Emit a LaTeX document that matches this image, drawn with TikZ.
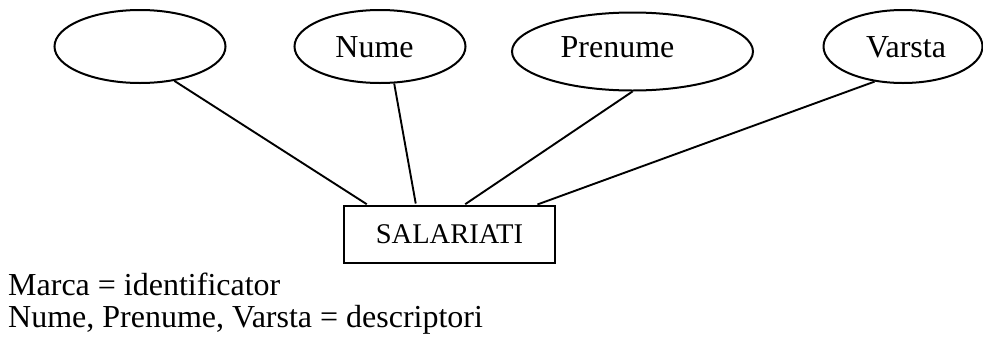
\documentclass[tikz,border=0pt]{standalone}
\usepackage{fontspec}
\setmainfont{Liberation Serif}
\usetikzlibrary{shapes.geometric,calc}
\begin{document}
\begin{tikzpicture}[x=1pt,y=-1pt,
  attr/.style={draw,ellipse,line width=2pt,inner sep=0pt},
  lbl/.style={inner sep=0pt,font=\fontsize{32}{38}\selectfont},
  entity/.style={draw,rectangle,line width=2pt,inner sep=0pt,
    minimum width=211pt,minimum height=57pt,font=\fontsize{28.5}{34}\selectfont},
  link/.style={line width=1.9pt,shorten >=1.5pt},
  note/.style={anchor=base west,inner sep=0pt,font=\fontsize{32}{38}\selectfont}]
  \useasboundingbox (0,0) rectangle (983,338);

  % attribute ellipses
  \node[attr,minimum width=171pt,minimum height=73pt] (e1) at (140,46.5) {};
  \node[attr,minimum width=171pt,minimum height=73pt] (e2) at (380,46.5) {};
  \node[attr,minimum width=241pt,minimum height=78pt] (e3) at (632.5,51.5) {};
  \node[attr,minimum width=159pt,minimum height=73pt] (e4) at (903,46.5) {};

  % attribute names (base line at y = 57)
  \node[lbl,anchor=base] (t2) at (374.5,57) {Nume};
  \node[lbl,anchor=base] (t3) at (617.5,57) {Prenume};
  \node[lbl,anchor=base] (t4) at (906,57) {Varsta};

  % entity
  \node[entity] (ent) at (449.5,234.5) {SALARIATI};

  % attribute links
  \draw[link] (e1.-45) -- ($(ent.north west)+(25,0)$);
  \draw[link] (e2.-69) -- ($(ent.north west)+(73,0)$);
  \draw[link] (e3.south) -- ($(ent.north west)+(121,0)$);
  \draw[link] (e4.-129) -- ($(ent.north west)+(193,0)$);

  % legend
  \node[note] (n1) at (8,295) {Marca = identificator};
  \node[note] (n2) at (8,327) {Nume, Prenume, Varsta = descriptori};
\end{tikzpicture}
\end{document}
